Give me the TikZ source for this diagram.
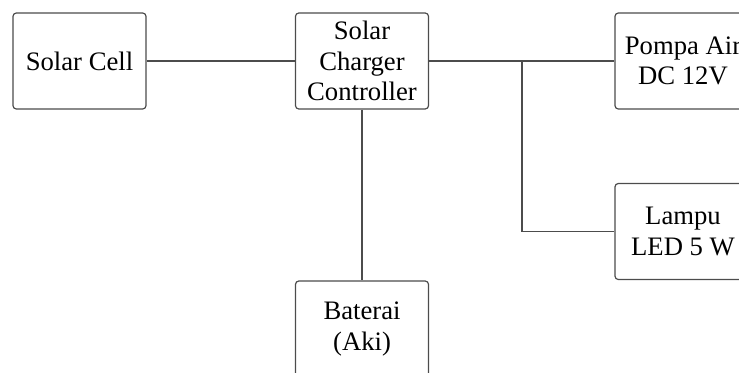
\documentclass[tikz,border=0pt]{standalone}
\usepackage{fontspec}
\setmainfont{Liberation Serif}
\begin{document}
\begin{tikzpicture}[x=0.75pt,y=-0.75pt,
  blk/.style={draw=black!70, line width=0.9pt, rounded corners=2.5pt,
    minimum width=133*0.75pt, minimum height=96*0.75pt, inner sep=0pt,
    align=center, font=\fontsize{20}{23}\selectfont, text=black},
  wire/.style={draw=black!70, line width=0.9pt}]
\useasboundingbox (0,0) rectangle (739,372);
\clip (0,0) rectangle (739,372);
\node[blk] (sc) at (79.5,61) {Solar Cell};
\node[blk] (scc) at (362,61) {Solar\\Charger\\Controller};
\node[blk, minimum width=136*0.75pt] (pompa) at (683,61) {Pompa Air\\DC 12V};
\node[blk, minimum width=136*0.75pt] (lampu) at (683,231.5) {Lampu\\LED 5 W};
\node[blk] (bat) at (362,329) {Baterai\\(Aki)};
\coordinate (j) at (522,61);
\draw[wire] (sc.east) -- (scc.west);
\draw[wire] (scc.east) -- (pompa.west);
\draw[wire] (j) |- (lampu.west);
\draw[wire] (scc.south) -- (bat.north);
\end{tikzpicture}
\end{document}
